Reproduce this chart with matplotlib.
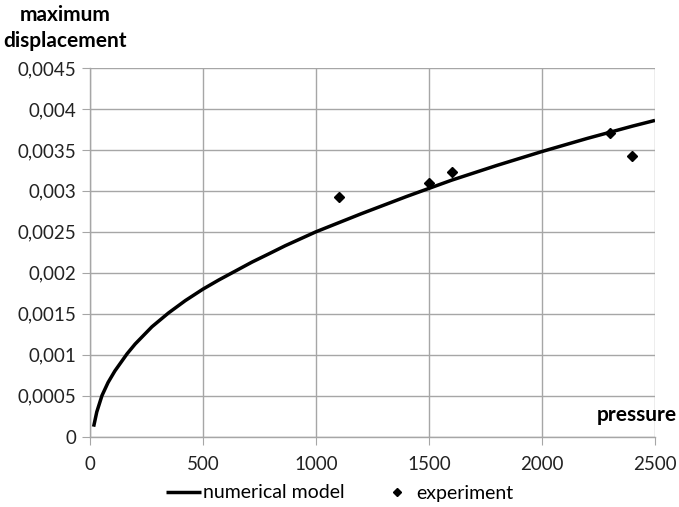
import matplotlib.pyplot as plt
from matplotlib.ticker import FuncFormatter, MultipleLocator

plt.rcParams['font.family'] = ['Lato', 'DejaVu Sans']

# numerical model curve
model_x = [16, 30, 53, 80, 110, 164, 200, 274, 348, 422, 500, 569, 643, 717,
           791, 864, 1000, 1200, 1400, 1500, 1600, 1800, 2000, 2200, 2400,
           2500]
model_y = [0.00012, 0.00030, 0.00050, 0.00066, 0.00080, 0.00101, 0.00113,
           0.00134, 0.00151, 0.00166, 0.00180, 0.00191, 0.00202, 0.00213,
           0.00223, 0.00233, 0.00250, 0.00272, 0.00293, 0.00303, 0.00313,
           0.00331, 0.00348, 0.00364, 0.00379, 0.00386]

# experiment points
exp_x = [1100, 1500, 1600, 2300, 2400]
exp_y = [0.00293, 0.00309, 0.00323, 0.00371, 0.00343]

fig = plt.figure(figsize=(6.79, 5.07), dpi=100)
ax = fig.add_axes([90 / 679, 1 - 436.5 / 507, 565 / 679, 368.5 / 507])

grid_col = '#a6a6a6'
ax.plot(model_x, model_y, color='black', lw=2.5, label='numerical model',
        solid_capstyle='butt', solid_joinstyle='round', zorder=3)
ax.plot(exp_x, exp_y, ls='none', marker='D', ms=5.5, color='black',
        label='experiment', zorder=4)

ax.set_xlim(0, 2500)
ax.set_ylim(0, 0.0045)
ax.xaxis.set_major_locator(MultipleLocator(500))
ax.yaxis.set_major_locator(MultipleLocator(0.0005))
ax.yaxis.set_major_formatter(FuncFormatter(lambda v, p: f"{v:g}".replace('.', ',')))

ax.grid(True, color=grid_col, lw=1)
ax.set_axisbelow(True)
for s in ['top', 'right']:
    ax.spines[s].set_visible(False)
for s in ['left', 'bottom']:
    ax.spines[s].set_color(grid_col)
    ax.spines[s].set_linewidth(1)
ax.tick_params(axis='both', direction='out', length=6, color=grid_col,
               labelsize=13.5, labelcolor='#222222')
ax.tick_params(axis='x', pad=8)
ax.tick_params(axis='y', pad=4)

fig.text(65 / 679, 1 - 15 / 507, 'maximum', ha='center', va='center',
         fontsize=15, fontweight='bold')
fig.text(65 / 679, 1 - 41 / 507, 'displacement', ha='center', va='center',
         fontsize=15, fontweight='bold')
fig.text(677 / 679, 1 - 415 / 507, 'pressure', ha='right', va='center',
         fontsize=15, fontweight='bold')

fig.legend(loc='center', bbox_to_anchor=(0.5, 1 - 493 / 507), ncol=2,
           frameon=False, fontsize=14, handlelength=1.8, handletextpad=0.1,
           columnspacing=1.8, markerscale=0.7)

fig.savefig('out.png', dpi=100)
